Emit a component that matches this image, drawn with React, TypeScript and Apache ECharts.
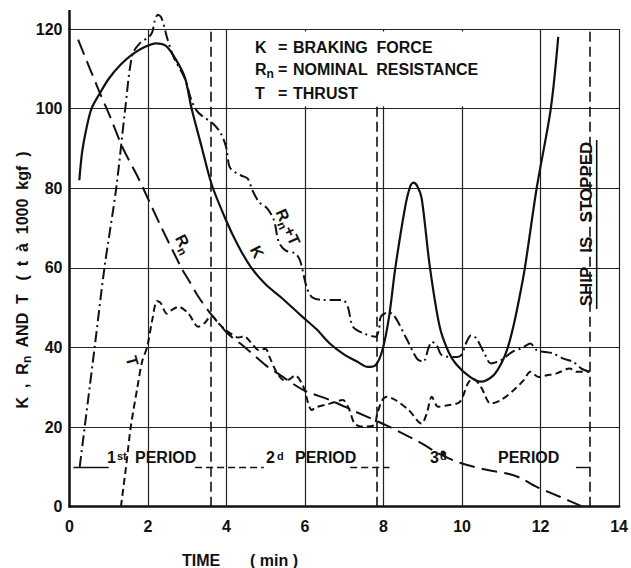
import React, { useEffect, useRef } from 'react';
import * as echarts from 'echarts';

const X_TICKS = { min: 0, max: 14, interval: 2 };
const Y_TICKS = { min: 0, max: 120, interval: 20 };

const K_FORCE: [number, number][] = [
  [0.25, 82], [0.32, 89], [0.42, 94.5], [0.56, 100], [0.77, 103.8], [1.0, 107.5], [1.3, 111], [1.6, 113.6],
  [1.9, 115.4], [2.2, 116.4], [2.45, 115.8], [2.7, 112.5], [2.94, 107.8], [3.11, 100], [3.35, 91], [3.62, 81],
  [3.99, 71.9], [4.3, 65.5], [4.62, 60.2], [5.0, 55.8], [5.4, 52.5], [5.9, 48], [6.3, 44.5], [6.63, 41],
  [7.0, 38.2], [7.3, 36.6], [7.6, 35.1], [7.8, 35.6], [7.97, 39.3], [8.14, 47.7], [8.3, 60], [8.55, 75.3],
  [8.68, 80.5], [8.76, 81.4], [8.86, 80.5], [8.97, 77.5], [9.18, 60.2], [9.43, 45.2], [9.65, 39], [9.85, 35.8],
  [10.2, 32.6], [10.48, 31.4], [10.8, 33], [11.0, 36], [11.15, 39.5], [11.3, 45], [11.45, 52], [11.6, 60],
  [11.9, 80], [12.26, 100], [12.45, 118],
];

const RN_RESISTANCE: [number, number][] = [
  [0.22, 117.3], [0.5, 110.5], [0.77, 104], [1.0, 98.8], [1.35, 90.3], [1.73, 83], [1.9, 79.5], [2.3, 71],
  [2.85, 60], [3.03, 57], [3.3, 52.5], [3.61, 48.3], [4.03, 43.5], [4.45, 40.2], [5.0, 35.5], [5.3, 33.5],
  [5.96, 29.3], [6.63, 26.8], [7.3, 23.8], [8.14, 20.1], [8.97, 15.9], [9.39, 13.4], [9.98, 10.9], [10.65, 9.2],
  [11.2, 8.2], [11.49, 7.2], [11.9, 5], [12.49, 2.5], [13.08, 0],
];

const T_THRUST: [number, number][] = [
  [1.31, 0], [1.44, 10], [1.56, 20], [1.73, 30], [1.85, 36.5], [1.98, 40.2], [2.11, 47], [2.23, 51.7],
  [2.32, 51.2], [2.48, 48.5], [2.62, 49.5], [2.78, 50.2], [3.03, 48.5], [3.28, 45.2], [3.45, 46.2], [3.61, 48],
  [3.8, 46], [4.03, 44], [4.3, 42.5], [4.45, 42.8], [4.6, 41.5], [4.83, 39.3], [4.99, 39.7], [5.1, 37.5],
  [5.25, 34.3], [5.46, 31.8], [5.6, 32], [5.75, 33], [5.96, 30.1], [6.08, 26], [6.17, 24.3], [6.29, 25],
  [6.63, 25.9], [6.96, 26.8], [7.13, 24.3], [7.26, 20.9], [7.47, 20.1], [7.76, 20.5], [7.84, 23.4], [7.97, 26.8],
  [8.09, 27.6], [8.3, 26.8], [8.64, 24.3], [8.97, 20.9], [9.1, 23.4], [9.23, 27.6], [9.39, 25.1], [9.64, 25.5],
  [9.94, 26.3], [10.15, 31], [10.27, 32.2], [10.48, 30.1], [10.73, 25.9], [10.99, 26.8], [11.32, 29.3],
  [11.57, 31.8], [11.74, 33.9], [11.95, 32.6], [12.16, 33], [12.41, 33.5], [12.74, 34.7], [12.91, 33.9],
  [13.25, 33.9],
];

const RN_PLUS_T: [number, number][] = [
  [0.26, 10], [0.64, 40], [0.89, 60], [1.19, 80], [1.42, 100], [1.6, 113.5], [1.8, 116.5], [2.02, 118],
  [2.11, 119.3], [2.17, 122], [2.25, 123.6], [2.33, 123], [2.42, 120.4], [2.48, 118], [2.65, 113], [2.94, 107.5],
  [3.11, 102], [3.24, 99.5], [3.36, 98.3], [3.66, 96.2], [3.86, 93.7], [3.99, 90.3], [4.08, 85.3], [4.25, 83.8],
  [4.37, 83.2], [4.54, 82.4], [4.66, 79.5], [4.83, 76.5], [5.04, 74.9], [5.21, 71.9], [5.33, 66.5], [5.5, 64.4],
  [5.75, 63.6], [5.87, 61.9], [6.04, 55.2], [6.17, 52.7], [6.46, 51.9], [6.96, 51.9], [7.09, 50.2], [7.22, 45.2],
  [7.5, 43.5], [7.8, 42.7], [7.88, 44.3], [7.93, 47.7], [8.09, 48.7], [8.22, 48.5], [8.56, 42.7], [8.85, 37.2],
  [9.01, 36.4], [9.15, 40], [9.23, 41.4], [9.35, 40.6], [9.48, 38.1], [9.81, 37.6], [9.98, 38.1], [10.12, 41.5],
  [10.23, 43.1], [10.36, 42.3], [10.57, 38.5], [10.73, 36], [10.99, 36.8], [11.28, 38.9], [11.49, 39.7],
  [11.65, 40.6], [11.74, 41], [11.9, 39.3], [12.07, 38.9], [12.32, 38.5], [12.58, 37.2], [12.83, 36.4],
  [13.04, 34.7], [13.25, 33.9],
];

// period boundaries (min) and the period-line level
const PERIOD_BOUNDS = [3.61, 7.82, 13.25];
const PERIOD_LEVEL = 10;
const PERIOD_SEGMENTS: [number, number, boolean][] = [
  [0.1, 1.0, false], [3.2, 4.95, true], [7.15, 8.15, true], [12.9, 13.25, false],
];

const FONT = 'Liberation Sans';
const INK = '#111';

let measureCtx: CanvasRenderingContext2D | null = null;
function textWidth(t: string, size: number) {
  if (!measureCtx) measureCtx = document.createElement('canvas').getContext('2d');
  measureCtx!.font = `bold ${size}px "${FONT}"`;
  return measureCtx!.measureText(t).width;
}

function txt(text: string, x: number, y: number, extra: any = {}) {
  return {
    type: 'text', x, y, rotation: extra.rotation || 0, z: 20,
    style: {
      text, fill: INK, fontSize: extra.fontSize || 16, fontWeight: 'bold',
      fontFamily: FONT, align: extra.align || 'left', verticalAlign: extra.verticalAlign || 'middle',
    },
  };
}

// text with subscripts: parts = [text, isSubscript]
function subText(parts: [string, boolean][], x: number, y: number, rotation = 0, align: 'left' | 'center' = 'left', size = 16) {
  const sizes = parts.map(([, s]) => (s ? Math.round(size * 0.75) : size));
  const widths = parts.map(([t], i) => textWidth(t, sizes[i]));
  const total = widths.reduce((a, b) => a + b, 0);
  let cur = align === 'center' ? -total / 2 : 0;
  const children = parts.map(([t, s], i) => {
    const c = {
      type: 'text', x: cur, y: s ? size * 0.32 : 0, z: 20,
      style: { text: t, fill: INK, fontSize: sizes[i], fontWeight: 'bold', fontFamily: FONT, align: 'left', verticalAlign: 'middle' },
    };
    cur += widths[i];
    return c;
  });
  return { type: 'group', x, y, rotation, z: 20, children };
}

export default function App() {
  const ref = useRef<HTMLDivElement>(null);
  useEffect(() => {
    const chart = echarts.init(ref.current!, null, { renderer: 'svg' });
    const axisCommon = {
      type: 'value' as const,
      axisTick: { show: false },
      splitLine: { show: true, lineStyle: { color: '#222', width: 1.2 } },
    };
    const option: any = {
      animation: false,
      backgroundColor: '#fff',
      grid: { left: 69.5, top: 29, width: 554.5, height: 477.7 },
      xAxis: {
        ...axisCommon, ...X_TICKS,
        axisLine: { show: true, onZero: false, lineStyle: { color: INK, width: 2.5 } },
        axisLabel: { color: INK, fontSize: 16, fontWeight: 'bold', fontFamily: FONT, margin: 12 },
      },
      yAxis: {
        ...axisCommon, ...Y_TICKS,
        axisLine: { show: true, onZero: false, lineStyle: { color: INK, width: 2.5 } },
        axisLabel: { color: INK, fontSize: 16, fontWeight: 'bold', fontFamily: FONT, margin: 7 },
      },
      series: [
        {
          type: 'line', data: [], z: 1, silent: true,
          markArea: {
            silent: true, itemStyle: { color: '#fff' },
            data: [[{ coord: [4.4, 100.6] }, { coord: [11.6, 119.4] }]],
          },
        },
        {
          type: 'line', data: [], z: 3, silent: true,
          markLine: {
            silent: true, symbol: ['none', 'none'], label: { show: false },
            data: [
              ...PERIOD_BOUNDS.map((b, i) => [
                { coord: [b, 0], lineStyle: { color: INK, width: 1.6, type: [10, 5] } },
                { coord: [b, i === 1 ? 100.6 : 120] },
              ]),
              ...PERIOD_SEGMENTS.map(([a, b, dashed]) => [
                { coord: [a, PERIOD_LEVEL], lineStyle: { color: INK, width: 1.4, type: dashed ? [7, 4] : 'solid' } },
                { coord: [b, PERIOD_LEVEL] },
              ]),
            ],
          },
        },
        {
          name: 'K', type: 'line', data: K_FORCE, showSymbol: false, symbol: 'none', smooth: 0.3, z: 5, clip: false,
          lineStyle: { color: INK, width: 2.2, type: 'solid' },
        },
        {
          name: 'Rn', type: 'line', data: RN_RESISTANCE, showSymbol: false, symbol: 'none', smooth: 0.3, z: 5, clip: false,
          lineStyle: { color: INK, width: 2, type: [16, 7] },
        },
        {
          name: 'T', type: 'line', data: T_THRUST, showSymbol: false, symbol: 'none', smooth: 0.3, z: 5, clip: false,
          lineStyle: { color: INK, width: 2, type: [7, 4] },
        },
        {
          name: 'Rn+T', type: 'line', data: RN_PLUS_T, showSymbol: false, symbol: 'none', smooth: 0.3, z: 5, clip: false,
          lineStyle: { color: INK, width: 2, type: [11, 4, 2, 4] },
        },
      ],
      graphic: [
        { type: 'line', z: 10, shape: { x1: 69.5, y1: 10, x2: 69.5, y2: 30 }, style: { stroke: INK, lineWidth: 2.5 } },
        { type: 'line', z: 10, shape: { x1: 596.7, y1: 140, x2: 596.7, y2: 309 }, style: { stroke: INK, lineWidth: 1.6 } },
        { type: 'circle', z: 10, shape: { cx: 443, cy: 453, r: 2.5 }, style: { fill: INK } },
        // legend block
        txt('K', 255, 47), txt('=', 278, 47), txt('BRAKING  FORCE', 293, 47),
        subText([['R', false], ['n', true]], 255, 69), txt('=', 278, 69), txt('NOMINAL  RESISTANCE', 293, 69),
        txt('T', 255, 93.5), txt('=', 278, 93.5), txt('THRUST', 293, 93.5),
        // curve labels
        subText([['R', false], ['n', true]], 184, 244, -1.1, 'center'),
        txt('K', 257, 252, { align: 'center', rotation: -1.1 }),
        subText([['R', false], ['n', true], ['+T', false]], 288, 227, -1.15, 'center'),
        txt('T', 132, 361, { align: 'center', rotation: -1.3 }),
        // periods
        txt('1', 107, 465, { verticalAlign: 'bottom' }),
        txt('st', 117, 450, { verticalAlign: 'top', fontSize: 11 }),
        txt('PERIOD', 135, 465, { verticalAlign: 'bottom' }),
        txt('2', 266, 465, { verticalAlign: 'bottom' }),
        txt('d', 277, 450, { verticalAlign: 'top', fontSize: 11 }),
        txt('PERIOD', 295, 465, { verticalAlign: 'bottom' }),
        txt('3', 430, 465, { verticalAlign: 'bottom' }),
        txt('d', 440, 450, { verticalAlign: 'top', fontSize: 11 }),
        txt('PERIOD', 498, 465, { verticalAlign: 'bottom' }),
        // ship stopped
        txt('SHIP   IS   STOPPED', 586, 224, { align: 'center', rotation: Math.PI / 2, fontSize: 17 }),
        // axis titles
        txt('TIME', 182, 560), txt('( min )', 250, 560),
        subText([['K  ,  R', false], ['n', true], ['  AND  T', false]], 22, 351, Math.PI / 2, 'center'),
        txt('(  t  à  1000  kgf  )', 22, 216, { align: 'center', rotation: Math.PI / 2 }),
      ],
    };
    chart.setOption(option);
    return () => chart.dispose();
  }, []);
  return <div ref={ref} style={{ position: 'fixed', left: 0, top: 0, width: 631, height: 568, background: '#fff' }} />;
}
